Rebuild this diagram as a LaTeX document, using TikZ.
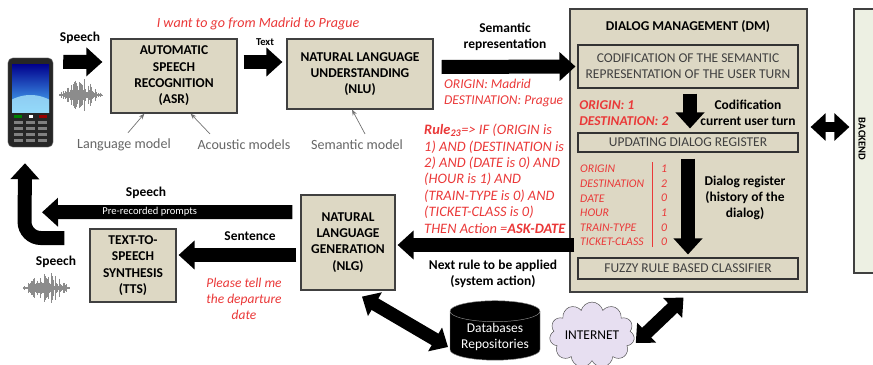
\documentclass[tikz,border=0pt]{standalone}
\usepackage{fontspec}
\setmainfont{Carlito}
\usetikzlibrary{arrows.meta,calc,shapes.geometric,shapes.symbols}

\definecolor{boxfill}{RGB}{221,216,196}
\definecolor{backfill}{RGB}{237,240,227}
\definecolor{rednote}{RGB}{234,56,56}
\definecolor{netfill}{RGB}{231,223,241}
\newcommand\bodyfont{\fontsize{11.5}{13.9}\selectfont}
\newcommand\smallfont{\fontsize{9}{10}\selectfont}

\begin{document}
\begin{tikzpicture}[x=0.03cm, y=-0.03cm,
  box/.style = {draw=black!75, line width=1pt, fill=boxfill, align=center,
    font=\bodyfont\bfseries, inner sep=1pt},
  dmpart/.style = {draw=black!80, line width=0.9pt, fill=boxfill, align=center,
    minimum width=6.6cm, inner sep=1pt, text=black!75, font=\bodyfont},
  fat/.style = {line width=0.42cm, -{Triangle[length=0.48cm, width=0.84cm]}},
  fatboth/.style = {line width=0.4cm,
    {Triangle[length=0.45cm, width=0.8cm]}-{Triangle[length=0.45cm, width=0.8cm]}},
  tag/.style = {font=\bodyfont\bfseries, align=center},
  note/.style = {text=rednote, font=\bodyfont\itshape, align=left},
  model/.style = {text=black!60, font=\fontsize{12}{14}\selectfont},
  pointer/.style = {draw=black!55, line width=0.6pt, -{Stealth[length=5pt]}},
  wave/.style = {black!45, line width=0.5pt}]

\useasboundingbox (0,0) rectangle (873,364);

% handset
\node (phone) [draw=black!55, fill=black!85, rounded corners=4pt,
  minimum width=1.35cm, minimum height=2.67cm] at (30.5,102.5) {};
\shade[top color=blue!55!black, bottom color=cyan!60!blue!70!white] (12,64) rectangle (49,112);
\begin{scope}
  \clip (12,64) rectangle (49,112);
  \fill[cyan!35!white, opacity=0.8] (30.5,135) circle (40);
\end{scope}
\fill[green!50!black] (14,115) rectangle ++(8,3);
\fill[white] (29,115) rectangle ++(4,3);
\fill[red!60!black] (39,115) rectangle ++(8,3);
\foreach \r in {0,...,3}
  \foreach \c in {0,1,2}
    \fill[black!50] ({14+12*\c},{121+6*\r}) rectangle ++(9,3);

% speech waves
\pgfmathsetseed{11}
\foreach \i [evaluate=\i as \h using {(2+15*rnd)*sin(4*\i)}] in {0,...,45}
  \draw[wave] (58+\i,95-\h) -- (58+\i,95+\h);
\foreach \i [evaluate=\i as \h using {(2+15*rnd)*sin(3.75*\i)}] in {0,...,48}
  \draw[wave] (22+\i,288-\h) -- (22+\i,288+\h);

% modules
\node[box, minimum width=3.78cm, minimum height=2.22cm] (asr) at (174,76)
  {AUTOMATIC\\SPEECH\\RECOGNITION\\(ASR)};
\node[box, minimum width=4.38cm, minimum height=2.1cm] (nlu) at (360,74)
  {NATURAL LANGUAGE\\UNDERSTANDING\\(NLU)};
\node[box, minimum width=2.82cm, minimum height=2.85cm] (nlg) at (348,242.5)
  {NATURAL\\LANGUAGE\\GENERATION\\(NLG)};
\node[box, minimum width=2.58cm, minimum height=2.19cm] (tts) at (133,265.5)
  {TEXT-TO-\\SPEECH\\SYNTHESIS\\(TTS)};

% dialog manager
\node[box, minimum width=7.11cm, minimum height=8.49cm] (dm) at (688.5,150.5) {};
\node[tag] (dmtitle) at (688,27) {DIALOG MANAGEMENT (DM)};
\node[dmpart, minimum height=1.29cm] (codify) at (688,66.5)
  {CODIFICATION OF THE SEMANTIC\\REPRESENTATION OF THE USER TURN};
\node[dmpart, minimum height=0.57cm] (update) at (688,142.5) {UPDATING DIALOG REGISTER};
\node[dmpart, minimum height=0.63cm] (fuzzy) at (688,268.5) {FUZZY RULE BASED CLASSIFIER};

\node[draw=black!75, line width=1pt, fill=backfill, minimum width=0.93cm,
  minimum height=7.92cm] (backend) at (869.5,141) {};
\node[font=\smallfont\bfseries, rotate=-90] (backendtag) at (862,139) {BACKEND};

\node[cylinder, shape border rotate=90, aspect=0.3, draw=black!45, fill=black,
  text=white, align=center, font=\bodyfont, minimum width=2.7cm,
  minimum height=1.53cm, inner sep=1pt] (db) at (495,337) {Databases\\Repositories};
\node[cloud, cloud puffs=11, aspect=1.5, draw=black!70, fill=netfill,
  font=\bodyfont, minimum width=2.43cm, minimum height=1.62cm, inner sep=0pt]
  (net) at (592,335) {INTERNET};

% flows
\draw[fat] ($(phone.north east)+(10,4)$) -- ($(asr.west)+(-8,-14)$);
\draw[fat] ($(asr.east)+(6,-14)$) -- ($(nlu.west)+(-4,-12)$);
\draw[fat] ($(nlu.east)+(8,-7)$) -- ($(codify.west)+(-2,0)$);
\draw[fat] ($(codify.south)+(2,5)$) -- ($(update.north)+(2,-4)$);
\draw[fat] ($(update.south)+(0,6)$) -- ($(fuzzy.north)+(0,-3)$);
\draw[fat] ($(dm.west)+(5,94.5)$) -- ($(nlg.east)+(2,2.5)$);
\draw[fat] ($(nlg.west)+(-8,-30.5)$) --
  node[pos=0.57, text=white, font=\smallfont] (prompts) {Pre-recorded prompts}
  ($(phone.south)+(11.5,65)$);
\draw[fat] ($(nlg.west)+(-4,12.5)$) -- ($(tts.east)+(2,-10.5)$);
\draw[fat, rounded corners=14] ($(tts.west)+(-25,-27.5)$) -- ++(-40,0)
  -- ($(phone.south)+(-5.5,16)$);
\draw[fatboth, line width=0.3cm] ($(dm.east)+(3,-23.5)$) -- ($(backend.west)+(-4,-14)$);
\draw[fatboth] ($(nlg.south)+(14,6)$) -- ($(db.center)+(-47,10)$);
\draw[fatboth] ($(net.east)+(2,8)$) -- ($(dm.south)+(-5,5)$);

% models
\node[model] (lm) at (124,145) {Language model};
\node[model] (am) at (244,145) {Acoustic models};
\node[model] (sm) at (357,145) {Semantic model};
\draw[pointer] ($(lm.north)+(4,-2)$) -- ($(asr.south west)+(34,0)$);
\draw[pointer] ($(am.north)+(-34,-2)$) -- ($(asr.south east)+(-47,0)$);
\draw[pointer] ($(sm.north)+(8,-2)$) -- ($(nlu.south)+(-8,0)$);

% labels
\node[tag] (speechin) at (80,38) {Speech};
\node[tag, font=\smallfont\bfseries] (textlbl) at (265,42) {Text};
\node[tag] (semlbl) at (505,37) {Semantic\\representation};
\node[tag] (codlbl) at (748,113) {Codification\\current user turn};
\node[tag] (reglbl) at (745,198) {Dialog register\\(history of the\\dialog)};
\node[tag] (nextlbl) at (493,274) {Next rule to be applied\\(system action)};
\node[tag] (speechout) at (146,193) {Speech};
\node[tag] (sentlbl) at (250,236) {Sentence};
\node[tag] (speechtts) at (56,262) {Speech};

% red notes
\node[note, font=\fontsize{12}{14}\selectfont\itshape] (utter) at (258,24)
  {I want to go from Madrid to Prague};
\node[note, anchor=west] (semval) at (440,93) {ORIGIN: Madrid\\DESTINATION: Prague};
\node[note, font=\bodyfont\bfseries\itshape, anchor=west, inner sep=1pt] (codval)
  at (578,113) {ORIGIN: 1\\DESTINATION: 2};
\node[note, font=\fontsize{12.3}{14}\selectfont\itshape, anchor=north west,
  inner sep=0pt] (rule) at (424,124)
  {\textbf{Rule\textsubscript{23}}=> IF (ORIGIN is\\1) AND (DESTINATION is\\
   2) AND (DATE is 0) AND\\(HOUR is 1) AND\\(TRAIN-TYPE is 0) AND\\
   (TICKET-CLASS is 0)\\THEN Action =\textbf{ASK-DATE}};
\node[note, font=\fontsize{10}{12.4}\selectfont\itshape, anchor=west, inner sep=0pt]
  (regkeys) at (580,205.5) {ORIGIN\\DESTINATION\\DATE\\HOUR\\TRAIN-TYPE\\TICKET-CLASS};
\node[note, font=\fontsize{10}{12.4}\selectfont\itshape, anchor=west, inner sep=0pt]
  (regvals) at (661,205.5) {1\\2\\0\\1\\0\\0};
\draw[rednote, line width=0.6pt] (652,162) -- (652,247);
\node[note, align=center] (reply) at (244,299) {Please tell me\\the departure\\date};

\end{tikzpicture}
\end{document}
